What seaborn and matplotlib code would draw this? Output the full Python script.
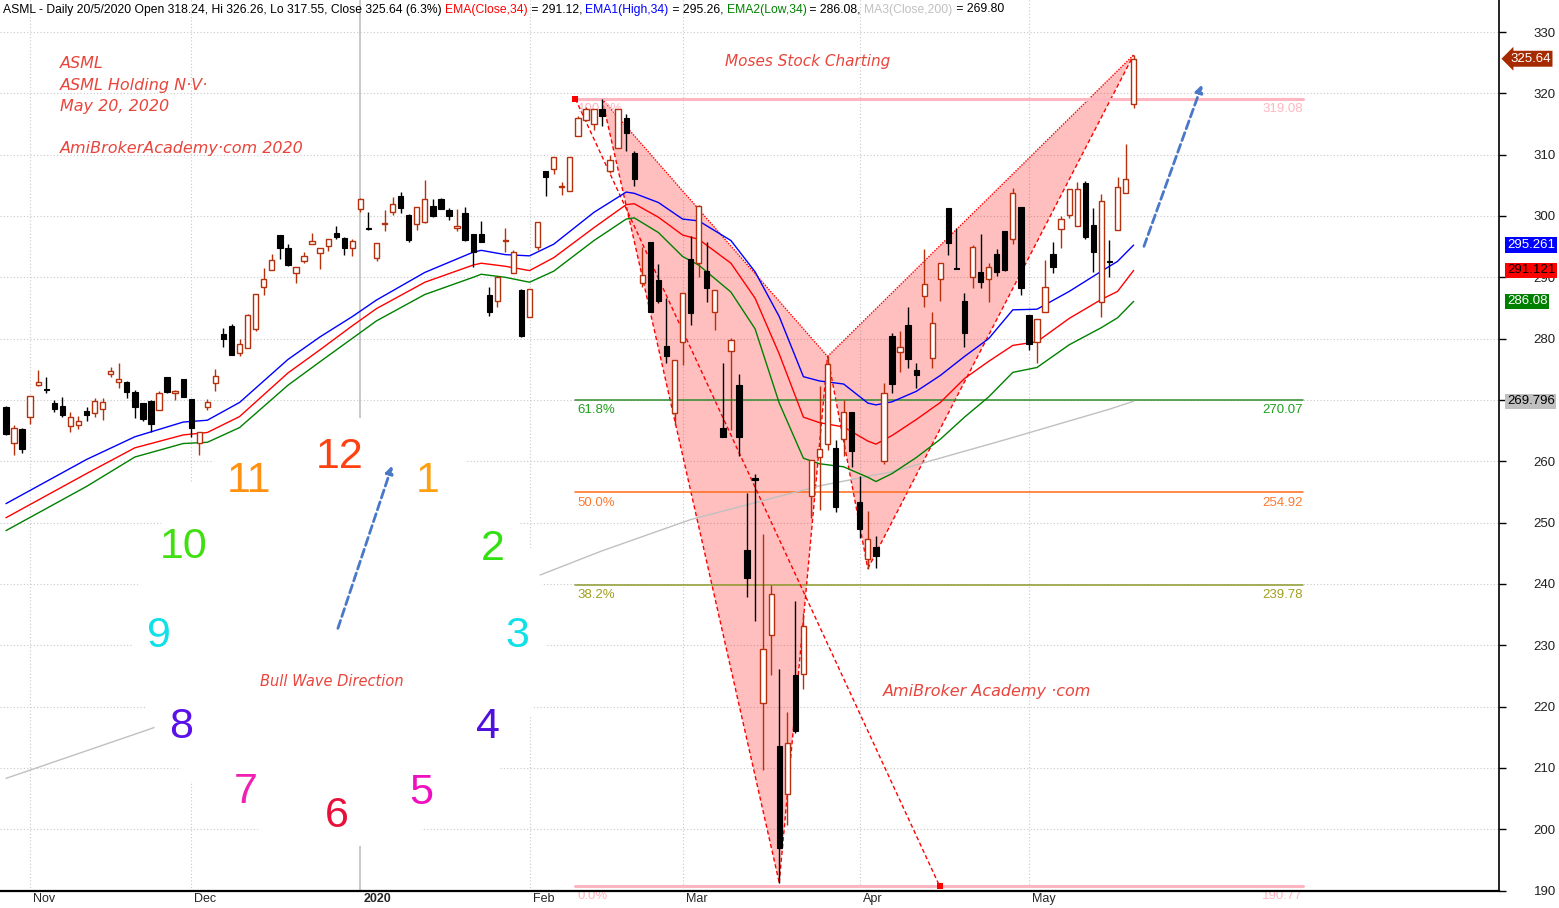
import numpy as np
import seaborn as sns
import matplotlib.pyplot as plt
from matplotlib import transforms
from matplotlib.patches import Ellipse, FancyArrowPatch

W, H = 1559, 908

# daily bars, 29 Oct 2019 .. 20 May 2020
opens = [268.8, 263.0, 265.3, 267.2, 272.5, 271.8, 269.5, 269.0, 265.7, 265.9,
         268.2, 267.9, 268.6, 274.2, 273.0, 272.9, 271.3, 269.5, 269.8, 268.3,
         273.7, 271.1, 273.4, 270.2, 263.0, 268.9, 272.7, 280.7, 282.0, 277.7,
         278.4, 281.6, 288.5, 291.2, 296.9, 294.7, 290.7, 292.6, 295.4, 293.9,
         295.1, 297.3, 296.4, 294.8, 301.1, 298.0, 293.1, 298.7, 300.7, 303.2,
         300.1, 298.7, 299.1, 301.6, 302.7, 300.9, 298.0, 300.5, 297.0, 297.0,
         287.1, 286.2, 295.9, 290.7, 288.0, 283.6, 294.9, 307.4, 307.6, 304.7,
         304.1, 313.0, 315.6, 315.0, 317.4, 307.3, 311.1, 315.9, 310.3, 289.0,
         295.7, 289.5, 278.8, 267.8, 279.5, 293.0, 292.3, 291.0, 284.4, 265.4,
         278.0, 272.5, 245.5, 257.2, 220.6, 231.6, 213.5, 205.8, 225.2, 225.3,
         254.4, 260.7, 262.8, 262.2, 263.6, 268.1, 253.3, 244.0, 246.1, 260.1,
         280.4, 277.9, 282.2, 274.9, 286.9, 276.8, 289.8, 301.3, 291.6, 286.1,
         290.0, 290.8, 289.8, 293.8, 297.6, 296.2, 301.4, 283.9, 279.5, 284.3,
         293.8, 297.8, 300.2, 298.4, 305.3, 298.5, 286.0, 292.6, 297.7, 303.7,
         318.24]
highs = [269.0, 265.9, 265.4, 270.6, 274.9, 273.7, 270.0, 270.5, 268.0, 267.4,
         268.9, 270.3, 270.3, 275.3, 276.1, 273.1, 271.7, 269.5, 270.0, 271.5,
         273.8, 271.6, 273.4, 270.2, 264.7, 270.1, 275.1, 281.7, 282.4, 280.0,
         284.1, 287.2, 291.6, 293.8, 296.9, 295.4, 291.7, 294.1, 297.2, 294.8,
         296.3, 298.3, 296.5, 296.2, 303.0, 300.7, 295.6, 301.0, 303.1, 303.9,
         300.3, 301.5, 305.8, 302.8, 302.9, 301.3, 301.2, 301.5, 297.0, 299.2,
         288.4, 290.1, 298.0, 294.4, 288.1, 288.1, 299.1, 307.4, 309.6, 305.5,
         309.6, 316.3, 317.7, 317.4, 319.1, 310.0, 317.5, 316.6, 310.6, 295.0,
         295.8, 292.2, 286.6, 276.6, 287.4, 296.7, 301.8, 295.7, 288.0, 276.1,
         280.1, 274.2, 254.8, 257.9, 248.1, 239.8, 226.2, 219.2, 237.3, 235.3,
         260.2, 272.2, 277.1, 263.5, 270.0, 268.1, 257.6, 251.9, 247.9, 272.7,
         281.0, 281.3, 285.1, 276.1, 294.6, 284.4, 292.4, 301.3, 298.0, 287.4,
         295.3, 297.1, 292.3, 294.6, 297.6, 304.6, 301.4, 283.9, 283.2, 292.8,
         295.7, 300.0, 304.4, 305.6, 305.7, 301.3, 303.6, 296.1, 306.4, 311.7,
         326.26]
lows = [264.3, 261.0, 261.4, 266.1, 272.2, 271.1, 268.0, 267.2, 264.7, 265.2,
        266.6, 267.3, 266.7, 273.7, 271.9, 270.4, 267.1, 266.6, 264.8, 268.3,
        271.2, 270.0, 270.5, 264.0, 261.0, 268.3, 271.5, 278.7, 277.4, 277.2,
        278.4, 281.3, 287.1, 291.2, 293.0, 291.9, 289.1, 292.4, 295.4, 291.4,
        294.3, 296.2, 293.7, 293.4, 300.7, 297.7, 292.6, 297.5, 300.2, 300.5,
        295.7, 297.7, 298.8, 299.8, 301.2, 299.4, 297.5, 296.0, 291.7, 295.7,
        283.7, 285.2, 294.2, 290.7, 280.2, 283.6, 294.4, 303.2, 306.9, 303.4,
        304.1, 313.0, 315.5, 314.1, 314.7, 307.0, 311.1, 310.6, 304.9, 288.5,
        284.4, 285.8, 276.0, 265.9, 275.7, 282.2, 290.1, 286.0, 281.4, 263.9,
        265.1, 260.8, 237.8, 233.9, 209.7, 225.1, 191.3, 200.7, 215.7, 222.8,
        250.7, 252.0, 261.8, 251.8, 260.8, 259.1, 247.5, 242.5, 242.6, 259.6,
        271.1, 274.5, 275.2, 271.9, 285.1, 275.2, 286.2, 293.6, 291.4, 278.7,
        288.3, 288.3, 286.0, 290.2, 291.1, 295.4, 287.1, 278.2, 276.1, 284.3,
        290.7, 294.7, 299.6, 298.4, 296.3, 290.8, 283.5, 290.1, 297.7, 303.7,
        317.55]
closes = [264.5, 265.5, 262.0, 270.6, 273.0, 271.6, 268.6, 267.6, 267.2, 266.6,
          267.5, 269.8, 269.6, 274.8, 273.4, 271.3, 268.8, 266.9, 266.1, 271.1,
          271.3, 271.4, 270.5, 265.5, 264.7, 269.6, 273.9, 280.0, 277.4, 279.1,
          283.9, 287.2, 289.8, 292.9, 294.7, 292.0, 291.7, 293.5, 296.0, 294.8,
          296.3, 296.6, 294.8, 295.9, 302.7, 297.9, 295.6, 298.9, 302.0, 301.3,
          296.1, 301.5, 302.7, 300.0, 301.2, 300.0, 298.4, 296.1, 294.2, 295.7,
          284.3, 290.1, 296.1, 294.2, 280.4, 288.1, 299.1, 306.4, 309.6, 304.9,
          309.6, 316.0, 317.4, 317.4, 316.3, 309.2, 317.5, 313.6, 306.0, 290.3,
          284.4, 286.2, 277.1, 276.6, 287.4, 284.2, 301.6, 288.2, 288.0, 263.9,
          279.7, 264.0, 240.9, 257.0, 229.4, 238.4, 196.9, 214.1, 216.0, 233.2,
          260.2, 262.0, 275.9, 252.5, 268.0, 261.6, 248.9, 247.4, 244.6, 271.1,
          272.6, 278.6, 276.7, 274.0, 288.9, 282.5, 292.3, 295.6, 291.4, 281.0,
          294.9, 289.3, 291.7, 290.8, 291.2, 303.7, 288.3, 279.1, 283.2, 288.4,
          291.7, 299.5, 304.4, 304.4, 296.5, 294.2, 302.5, 292.5, 304.8, 306.1,
          325.64]

month_idx = [3, 23, 44, 65, 84, 106, 127]
month_labels = ["Nov", "Dec", "2020", "Feb", "Mar", "Apr", "May"]

# indicator lines, sampled off the chart at these bar positions
ind_idx = [0, 10, 16, 22, 25, 29, 35, 39, 43, 46, 52, 58, 59, 62, 65, 68, 73, 77,
           78, 81, 84, 86, 90, 93, 96, 99, 101, 104, 107, 108, 110, 113, 116,
           119, 122, 125, 128, 132, 136, 138, 140]
ema_high = [253.1, 260.3, 264.0, 266.4, 266.7, 269.6, 276.6, 280.3, 283.6, 286.3,
            290.8, 294.1, 294.4, 293.7, 293.5, 295.4, 300.6, 303.9, 303.7, 302.2,
            299.5, 299.2, 296.0, 290.9, 283.6, 273.8, 273.1, 272.6, 269.5, 269.2,
            269.7, 271.4, 274.0, 277.1, 280.0, 284.7, 284.8, 287.7, 291.0, 292.6,
            295.261]
ema_close = [250.8, 258.0, 262.2, 264.3, 264.7, 267.3, 274.4, 278.2, 282.1, 284.9,
             289.2, 292.0, 292.3, 291.8, 291.1, 293.2, 298.1, 301.85, 302.0, 299.8,
             296.9, 296.2, 292.3, 286.6, 277.5, 267.2, 266.3, 265.6, 263.3, 262.8,
             264.2, 266.8, 269.6, 273.5, 276.3, 278.9, 279.5, 283.3, 286.4, 287.7,
             291.121]
ema_low = [248.7, 255.9, 260.7, 262.9, 263.1, 265.5, 272.4, 276.25, 280.05, 282.9,
           287.2, 290.0, 290.5, 290.0, 289.2, 291.0, 296.0, 299.5, 299.7, 297.3,
           293.4, 292.0, 287.6, 281.6, 269.5, 260.5, 259.6, 259.1, 257.4, 256.7,
           258.0, 260.6, 263.6, 267.2, 270.5, 274.5, 275.3, 279.0, 281.8, 283.4,
           286.08]
ma_idx = [0, 18, 66, 74, 85, 101, 110, 124, 137, 140]
ma200 = [208.3, 216.4, 241.3, 245.4, 250.5, 256.0, 258.3, 263.5, 268.5, 269.796]

# harmonic pattern pivots X, A, B, C, D (bar numbers)
pattern_bars = [74, 96, 102, 107, 140]

# fibonacci retracement as drawn on the chart
fib_anchor_x = [70.7, 115.9]
fib_end = 161
fib_values = [319.08, 270.07, 254.92, 239.78, 190.77]
fib_names = ["100.0%", "61.8%", "50.0%", "38.2%", "0.0%"]
fib_line_colors = ["#FFB6C1", "#2E8B2E", "#FF6A1A", "#8E9A2E", "#FFB6C1"]
fib_text_colors = ["#FFB6C1", "#1E9E1E", "#FF7A30", "#A0A020", "#FFB6C1"]

tag_values = [325.64, 295.261, 291.121, 286.08, 269.796]
tag_texts = ["325.64", "295.261", "291.121", "286.08", "269.796"]
tag_colors = ["#A52A00", "#0000FF", "#FF0000", "#008000", "#C0C0C0"]
tag_fg = ["white", "white", "black", "white", "black"]

header_parts = [
    ("ASML - Daily 20/5/2020 Open 318.24, Hi 326.26, Lo 317.55, Close 325.64 (6.3%) ", "black"),
    ("EMA(Close,34)", "red"), (" = 291.12, ", "black"),
    ("EMA1(High,34)", "blue"), (" = 295.26, ", "black"),
    ("EMA2(Low,34)", "green"), (" = 286.08, ", "black"),
    ("MA3(Close,200)", "#C0C0C0"), (" = 269.80", "black"),
]

clock_nums = ["12", "1", "2", "3", "4", "5", "6", "7", "8", "9", "10", "11"]
clock_cx = [340, 428, 493, 517, 488, 421, 337, 246, 181, 159, 184, 249]
clock_base = [468, 492, 560, 647, 738, 804, 827, 803, 738, 647, 558, 492]
clock_cols = ["#FF4010", "#FFA010", "#30E010", "#10E0E8", "#5010E0", "#F010C0",
              "#E8103A", "#F020B0", "#5A10E8", "#10E0E8", "#40E010", "#FF9010"]

UP = "#B5300B"
NOTE = "#E8453C"

sns.set_style("white")
plt.rcParams["font.family"] = ["Liberation Sans", "DejaVu Sans"]

fig = plt.figure(figsize=(W / 100, H / 100), dpi=100)
ax = fig.add_axes([0, 17.4 / H, 1499 / W, 890.6 / H])
ax.set_xlim(-0.744, 185.36)
ax.set_ylim(190, 335.22)


def fig_xy(x, y):
    return x / W, 1 - y / H


# grid
for v in range(190, 331, 10):
    ax.axhline(v, color="#C8C8C8", lw=0.8, ls=(0, (1, 2)), zorder=0.5)
for i, lab in zip(month_idx, month_labels):
    if lab == "2020":
        ax.axvline(i, color="#C0C0C0", lw=1.2, zorder=0.5)
    else:
        ax.axvline(i, color="#C8C8C8", lw=0.8, ls=(0, (1, 2)), zorder=0.5)

# harmonic pattern
px = pattern_bars
py = [highs[px[0]], lows[px[1]], highs[px[2]], lows[px[3]], highs[px[4]]]
ax.fill([px[0], px[1], px[2]], [py[0], py[1], py[2]], color="red", alpha=0.25, lw=0, zorder=1)
ax.fill([px[2], px[3], px[4]], [py[2], py[3], py[4]], color="red", alpha=0.25, lw=0, zorder=1)
dash = (0, (3, 2))
dots = (0, (1, 1))
for a, b, style in [(0, 1, dash), (1, 2, dash), (0, 2, dots), (2, 3, dash), (3, 4, dash), (2, 4, dots)]:
    ax.plot([px[a], px[b]], [py[a], py[b]], color="red", lw=1, ls=style, zorder=1.2)

# fibonacci
for val, name, lc, tc in zip(fib_values, fib_names, fib_line_colors, fib_text_colors):
    lw = 2.2 if lc == "#FFB6C1" else 1.1
    ax.plot([fib_anchor_x[0], fib_end], [val, val], color=lc, lw=lw, zorder=1.5)
    ax.annotate(name, (fib_anchor_x[0] + 0.3, val), xytext=(0, -3), textcoords="offset points",
                va="top", ha="left", color=tc, fontsize=9.5, zorder=1.5)
    ax.annotate(f"{val:.2f}", (fib_end, val), xytext=(0, -3), textcoords="offset points",
                va="top", ha="right", color=tc, fontsize=9.5, zorder=1.5)
fib_ends = [fib_values[0], fib_values[-1]]
ax.plot(fib_anchor_x, fib_ends, color="red", lw=1, ls=dash, zorder=1.6)
ax.scatter(fib_anchor_x, fib_ends, marker="s", s=24, color="red", linewidths=0, zorder=5)

# indicators
sns.lineplot(x=ma_idx, y=ma200, color="#C0C0C0", lw=1, ax=ax, zorder=2)
sns.lineplot(x=ind_idx, y=ema_low, color="green", lw=1, ax=ax, zorder=2.5)
sns.lineplot(x=ind_idx, y=ema_close, color="red", lw=1, ax=ax, zorder=2.5)
sns.lineplot(x=ind_idx, y=ema_high, color="blue", lw=1, ax=ax, zorder=2.5)

# candles
o, h, l, c = (np.array(a) for a in (opens, highs, lows, closes))
idx = np.arange(len(c))
up = c >= o
body_lo = np.minimum(o, c)
body_h = np.maximum(np.abs(c - o), 0.12)
ax.vlines(idx[up], l[up], h[up], color=UP, lw=1, zorder=3)
ax.vlines(idx[~up], l[~up], h[~up], color="black", lw=1, zorder=3)
ax.bar(idx[up], body_h[up], bottom=body_lo[up], width=0.66, facecolor="white",
       edgecolor=UP, lw=1, zorder=4)
ax.bar(idx[~up], body_h[~up], bottom=body_lo[~up], width=0.66, facecolor="black",
       edgecolor="black", lw=0.8, zorder=4)

# clock picture
ax.add_patch(Ellipse(fig_xy(340, 632), 414 / W, 430 / H, transform=fig.transFigure,
                     facecolor="white", edgecolor="none", zorder=6))
for s, cx, cy, col in zip(clock_nums, clock_cx, clock_base, clock_cols):
    fig.text(*fig_xy(cx, cy), s, ha="center", va="baseline", fontsize=31, color=col, zorder=7)

for tail, tip in [((337, 631), (393, 463)), ((1143, 249), (1203, 82))]:
    fig.patches.append(FancyArrowPatch(fig_xy(*tail), fig_xy(*tip), transform=fig.transFigure,
                                       arrowstyle="-|>", mutation_scale=11, color="#4A78C8",
                                       lw=2, ls=(0, (3, 1.5)), zorder=8))

# notes
note_kw = dict(color=NOTE, style="italic", family="DejaVu Sans", va="baseline", zorder=9)
fig.text(*fig_xy(60, 68.5), "ASML", fontsize=11.5, **note_kw)
fig.text(*fig_xy(60, 90), "ASML Holding N·V·", fontsize=11.5, **note_kw)
fig.text(*fig_xy(60, 111), "May 20, 2020", fontsize=11.5, **note_kw)
fig.text(*fig_xy(60, 153), "AmiBrokerAcademy·com 2020", fontsize=11.5, **note_kw)
fig.text(*fig_xy(808, 66), "Moses Stock Charting", fontsize=11, ha="center", **note_kw)
fig.text(*fig_xy(987, 696), "AmiBroker Academy ·com", fontsize=11.5, ha="center", **note_kw)
fig.text(*fig_xy(332, 686), "Bull Wave Direction", fontsize=10.5, ha="center", **note_kw)

# axes styling
for side in ["left", "top"]:
    ax.spines[side].set_visible(False)
ax.spines["right"].set_color("black")
ax.spines["right"].set_linewidth(1.2)
ax.spines["bottom"].set_color("black")
ax.spines["bottom"].set_linewidth(1.6)
ax.yaxis.tick_right()
ax.set_yticks(range(190, 331, 10))
ax.tick_params(axis="y", length=5, width=1, color="black", pad=20, labelsize=9.5, labelcolor="#202020")
ax.set_xticks(month_idx)
ax.set_xticklabels([])
ax.tick_params(axis="x", length=9, width=1, color="black", direction="out")
ax.set_xlabel("")
ax.set_ylabel("")

xfig = transforms.blended_transform_factory(ax.transData, fig.transFigure)
for i, lab in zip(month_idx, month_labels):
    ax.text(i + 0.4, 1 - 899 / H, lab, transform=xfig, ha="left", va="center", fontsize=9,
            fontweight="bold" if lab == "2020" else "normal", clip_on=False)

tagtr = transforms.blended_transform_factory(fig.transFigure, ax.transData)
for k, (v, s, fc, tc) in enumerate(zip(tag_values, tag_texts, tag_colors, tag_fg)):
    style = "larrow,pad=0.15" if k == 0 else "square,pad=0.12"
    x0 = 1510 if k == 0 else 1507
    ax.text(x0 / W, v, s, transform=tagtr, ha="left", va="center", fontsize=9.5, color=tc,
            bbox=dict(boxstyle=style, fc=fc, ec="none"), clip_on=False, zorder=10)

# header line, coloured pieces placed one after another
renderer = fig.canvas.get_renderer()


def text_width(s, size):
    t = fig.text(0, 0, s + "|", fontsize=size)
    bar = fig.text(0, 0, "|", fontsize=size)
    w = t.get_window_extent(renderer).width - bar.get_window_extent(renderer).width
    t.remove()
    bar.remove()
    return w


full = "".join(p for p, _ in header_parts)
hsize = 9 * 995 / text_width(full, 9)
prefix = ""
for piece, col in header_parts:
    x = 3 + (text_width(prefix, hsize) if prefix else 0)
    fig.text(*fig_xy(x, 12.5), piece, color=col, fontsize=hsize, va="baseline")
    prefix += piece

fig.savefig("out.png", dpi=100, facecolor="white")
